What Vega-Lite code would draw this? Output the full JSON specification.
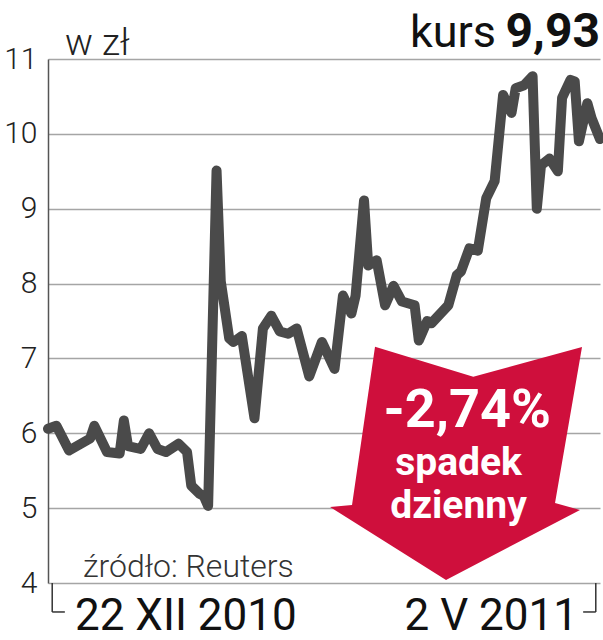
{
  "$schema": "https://vega.github.io/schema/vega-lite/v6.json",
  "autosize": {"type": "none"},
  "width": 552,
  "height": 524,
  "padding": {"left": 48, "top": 59, "right": 3, "bottom": 57},
  "background": "white",
  "config": {"view": {"stroke": null}},
  "datasets": {
    "kurs": [
      {"dzien": "2010-12-22", "kurs": 6.06},
      {"dzien": "2010-12-24", "kurs": 6.10},
      {"dzien": "2010-12-27", "kurs": 5.77},
      {"dzien": "2011-01-01", "kurs": 5.93},
      {"dzien": "2011-01-02", "kurs": 6.10},
      {"dzien": "2011-01-05", "kurs": 5.75},
      {"dzien": "2011-01-08", "kurs": 5.73},
      {"dzien": "2011-01-09", "kurs": 6.17},
      {"dzien": "2011-01-10", "kurs": 5.83},
      {"dzien": "2011-01-13", "kurs": 5.79},
      {"dzien": "2011-01-15", "kurs": 6.00},
      {"dzien": "2011-01-17", "kurs": 5.79},
      {"dzien": "2011-01-19", "kurs": 5.75},
      {"dzien": "2011-01-22", "kurs": 5.86},
      {"dzien": "2011-01-24", "kurs": 5.75},
      {"dzien": "2011-01-25", "kurs": 5.30},
      {"dzien": "2011-01-27", "kurs": 5.19},
      {"dzien": "2011-01-28", "kurs": 5.16},
      {"dzien": "2011-01-29", "kurs": 5.03},
      {"dzien": "2011-01-31", "kurs": 9.51},
      {"dzien": "2011-02-01", "kurs": 8.03},
      {"dzien": "2011-02-03", "kurs": 7.27},
      {"dzien": "2011-02-04", "kurs": 7.22},
      {"dzien": "2011-02-06", "kurs": 7.30},
      {"dzien": "2011-02-09", "kurs": 6.20},
      {"dzien": "2011-02-11", "kurs": 7.40},
      {"dzien": "2011-02-13", "kurs": 7.57},
      {"dzien": "2011-02-15", "kurs": 7.36},
      {"dzien": "2011-02-17", "kurs": 7.33},
      {"dzien": "2011-02-19", "kurs": 7.40},
      {"dzien": "2011-02-22", "kurs": 6.76},
      {"dzien": "2011-02-25", "kurs": 7.22},
      {"dzien": "2011-02-28", "kurs": 6.86},
      {"dzien": "2011-03-02", "kurs": 7.84},
      {"dzien": "2011-03-04", "kurs": 7.60},
      {"dzien": "2011-03-05", "kurs": 7.84},
      {"dzien": "2011-03-07", "kurs": 9.11},
      {"dzien": "2011-03-08", "kurs": 8.24},
      {"dzien": "2011-03-10", "kurs": 8.31},
      {"dzien": "2011-03-12", "kurs": 7.71},
      {"dzien": "2011-03-14", "kurs": 7.97},
      {"dzien": "2011-03-16", "kurs": 7.76},
      {"dzien": "2011-03-19", "kurs": 7.71},
      {"dzien": "2011-03-20", "kurs": 7.24},
      {"dzien": "2011-03-22", "kurs": 7.50},
      {"dzien": "2011-03-23", "kurs": 7.47},
      {"dzien": "2011-03-27", "kurs": 7.71},
      {"dzien": "2011-03-29", "kurs": 8.11},
      {"dzien": "2011-03-30", "kurs": 8.16},
      {"dzien": "2011-04-01", "kurs": 8.47},
      {"dzien": "2011-04-03", "kurs": 8.44},
      {"dzien": "2011-04-05", "kurs": 9.14},
      {"dzien": "2011-04-07", "kurs": 9.37},
      {"dzien": "2011-04-09", "kurs": 10.52},
      {"dzien": "2011-04-11", "kurs": 10.28},
      {"dzien": "2011-04-12", "kurs": 10.61},
      {"dzien": "2011-04-14", "kurs": 10.65},
      {"dzien": "2011-04-16", "kurs": 10.77},
      {"dzien": "2011-04-17", "kurs": 9.00},
      {"dzien": "2011-04-18", "kurs": 9.58},
      {"dzien": "2011-04-20", "kurs": 9.67},
      {"dzien": "2011-04-22", "kurs": 9.50},
      {"dzien": "2011-04-23", "kurs": 10.48},
      {"dzien": "2011-04-25", "kurs": 10.72},
      {"dzien": "2011-04-26", "kurs": 10.70},
      {"dzien": "2011-04-27", "kurs": 9.90},
      {"dzien": "2011-04-29", "kurs": 10.41},
      {"dzien": "2011-04-30", "kurs": 10.21},
      {"dzien": "2011-05-02", "kurs": 9.93}
    ],
    "strzalka": [{"dzien": "2011-03-28", "kurs": 5.6}],
    "procent": [{"dzien": "2011-03-31", "kurs": 6.084, "tekst": "-2,74%"}],
    "opis": [
      {"dzien": "2011-03-28", "kurs": 5.44, "tekst": "spadek"},
      {"dzien": "2011-03-28", "kurs": 4.868, "tekst": "dzienny"}
    ],
    "jednostka": [{"dzien": "2010-12-22", "kurs": 11.05, "tekst": "w zł"}],
    "kursSlowo": [{"dzien": "2011-05-02", "kurs": 11.16, "tekst": "kurs"}],
    "kursWartosc": [{"dzien": "2011-05-02", "kurs": 11.16, "tekst": "9,93"}],
    "zrodlo": [{"dzien": "2010-12-22", "kurs": 4.08, "tekst": "źródło: Reuters"}],
    "poczatek": [{"dzien": "2010-12-22", "kurs": 3.372, "tekst": "22 XII 2010"}],
    "koniec": [{"dzien": "2011-05-02", "kurs": 3.372, "tekst": "2 V 2011"}],
    "klamry": [
      {"dzien": "2010-12-23", "dzien2": "2010-12-23", "kurs": 4.0, "kurs2": 3.613},
      {"dzien": "2010-12-23", "dzien2": "2010-12-26", "kurs": 3.613, "kurs2": 3.613},
      {"dzien": "2011-05-01", "dzien2": "2011-05-01", "kurs": 4.0, "kurs2": 3.613},
      {"dzien": "2011-04-28", "dzien2": "2011-05-01", "kurs": 3.613, "kurs2": 3.613}
    ]
  },
  "encoding": {
    "x": {
      "field": "dzien",
      "type": "temporal",
      "scale": {
        "type": "utc",
        "nice": false,
        "domain": [
          {"year": 2010, "month": 12, "date": 22, "utc": true},
          {"year": 2011, "month": 5, "date": 2, "utc": true}
        ]
      },
      "axis": null
    },
    "y": {
      "field": "kurs",
      "type": "quantitative",
      "scale": {"domain": [4, 11], "nice": false, "zero": false},
      "axis": {
        "values": [4, 5, 6, 7, 8, 9, 10, 11],
        "title": null,
        "grid": true,
        "gridColor": "#a5a5a5",
        "gridWidth": 1.4,
        "domain": true,
        "domainColor": "#555555",
        "domainWidth": 1.5,
        "ticks": false,
        "labelFont": "Roboto",
        "labelFontWeight": 300,
        "labelFontSize": 30,
        "labelColor": "#222222",
        "labelPadding": 11
      }
    }
  },
  "layer": [
    {
      "data": {"name": "kurs"},
      "mark": {"type": "line", "color": "#4a4a4a", "strokeWidth": 10, "strokeJoin": "round", "strokeCap": "round"}
    },
    {
      "data": {"name": "strzalka"},
      "mark": {
        "type": "point",
        "shape": "M -0.62 -0.932 L 0.166 -0.692 L 1.036 -0.93 L 0.82 0.318 L 1.02 0.374 L -0.052 0.934 L -0.98 0.35 L -0.804 0.334 Z",
        "size": 62500,
        "filled": true,
        "fill": "#cf0f3c",
        "opacity": 1,
        "strokeWidth": 0
      }
    },
    {
      "data": {"name": "procent"},
      "mark": {"type": "text", "align": "center", "baseline": "alphabetic", "font": "Roboto", "fontWeight": "bold", "fontSize": 54, "color": "white", "dx": 2},
      "encoding": {"text": {"field": "tekst"}}
    },
    {
      "data": {"name": "opis"},
      "mark": {"type": "text", "align": "center", "baseline": "alphabetic", "font": "Roboto", "fontWeight": "bold", "fontSize": 39, "color": "white", "dx": 6},
      "encoding": {"text": {"field": "tekst"}}
    },
    {
      "data": {"name": "jednostka"},
      "mark": {"type": "text", "align": "left", "baseline": "alphabetic", "font": "Roboto", "fontWeight": 300, "fontSize": 37, "color": "#222222", "dx": 17},
      "encoding": {"text": {"field": "tekst"}}
    },
    {
      "data": {"name": "kursSlowo"},
      "mark": {"type": "text", "align": "right", "baseline": "alphabetic", "font": "Roboto", "fontWeight": 400, "fontSize": 45, "color": "#111111", "dx": -104},
      "encoding": {"text": {"field": "tekst"}}
    },
    {
      "data": {"name": "kursWartosc"},
      "mark": {"type": "text", "align": "right", "baseline": "alphabetic", "font": "Roboto", "fontWeight": "bold", "fontSize": 48, "color": "#111111", "dx": 0},
      "encoding": {"text": {"field": "tekst"}}
    },
    {
      "data": {"name": "zrodlo"},
      "mark": {"type": "text", "align": "left", "baseline": "alphabetic", "font": "Roboto", "fontWeight": 300, "fontSize": 32, "color": "#333333", "dx": 35},
      "encoding": {"text": {"field": "tekst"}}
    },
    {
      "data": {"name": "poczatek"},
      "mark": {"type": "text", "align": "left", "baseline": "alphabetic", "font": "Roboto", "fontWeight": 400, "fontSize": 44, "color": "#111111", "dx": 27},
      "encoding": {"text": {"field": "tekst"}}
    },
    {
      "data": {"name": "koniec"},
      "mark": {"type": "text", "align": "right", "baseline": "alphabetic", "font": "Roboto", "fontWeight": 400, "fontSize": 44, "color": "#111111", "dx": -22},
      "encoding": {"text": {"field": "tekst"}}
    },
    {
      "data": {"name": "klamry"},
      "mark": {"type": "rule", "color": "#333333", "strokeWidth": 1.5},
      "encoding": {
        "x2": {"field": "dzien2"},
        "y2": {"field": "kurs2"}
      }
    }
  ]
}
